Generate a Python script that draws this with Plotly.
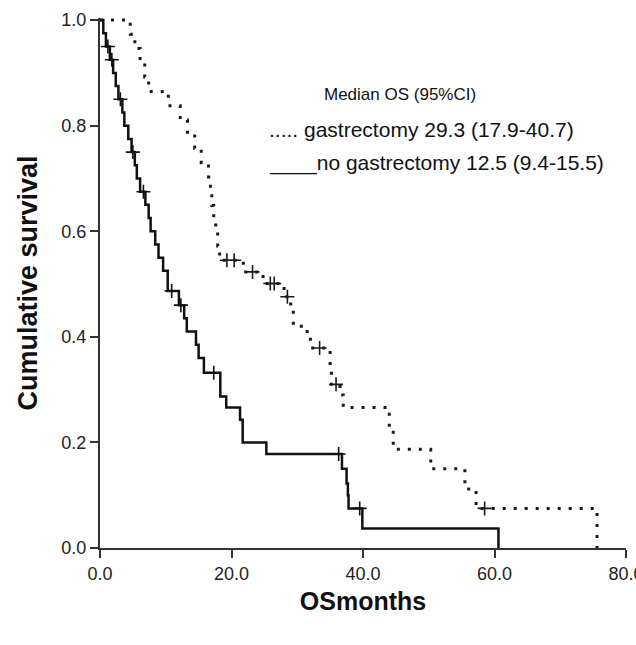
import plotly.graph_objects as go

# ---- data ----
# no gastrectomy (solid): event times (months) and survival after each step
nogas_t = [0, 0.5, 0.9, 1.5, 2.0, 2.4, 2.8, 3.4, 3.7, 4.3, 4.8, 5.3, 5.6, 6.1, 6.9, 7.4, 7.7,
           8.4, 8.9, 9.6, 10.3, 12.0, 12.8, 13.2, 14.6, 15.0, 15.8, 18.3, 19.2, 21.3,
           21.7, 25.3, 36.8, 37.5, 37.7, 37.8, 39.9, 60.6]
nogas_s = [1.0, 0.975, 0.95, 0.925, 0.90, 0.875, 0.85, 0.825, 0.80, 0.775, 0.75, 0.725, 0.70,
           0.675, 0.65, 0.625, 0.60, 0.575, 0.55, 0.525, 0.487, 0.46, 0.435, 0.41,
           0.385, 0.36, 0.332, 0.287, 0.266, 0.243, 0.20, 0.178, 0.15, 0.122, 0.10, 0.075,
           0.037, 0.0]
nogas_cens_t = [1.2, 1.8, 3.1, 5.0, 6.6, 10.9, 12.3, 17.3, 36.3, 39.5]
nogas_cens_s = [0.95, 0.925, 0.85, 0.75, 0.675, 0.487, 0.46, 0.332, 0.178, 0.075]

# gastrectomy (dotted)
gas_t = [0, 4.6, 5.3, 6.1, 6.8, 7.4, 10.4, 12.2, 13.3, 14.4, 15.4, 16.5, 16.8, 17.0, 17.3,
         17.6, 17.9, 18.2, 21.8, 24.8, 28.0, 29.0, 29.4, 31.5, 32.0, 35.0, 35.2, 36.5, 37.0,
         44.0, 44.6, 50.3, 55.5, 57.2, 75.6]
gas_s = [1.0, 0.973, 0.946, 0.919, 0.892, 0.865, 0.838, 0.811, 0.784, 0.757, 0.730, 0.703,
         0.676, 0.649, 0.622, 0.595, 0.572, 0.545, 0.523, 0.501, 0.476, 0.45, 0.42, 0.40,
         0.379, 0.345, 0.31, 0.29, 0.266, 0.225, 0.187, 0.15, 0.112, 0.075, 0.0]
gas_cens_t = [19.3, 20.4, 23.2, 25.9, 26.5, 28.5, 33.4, 35.9, 58.5]
gas_cens_s = [0.545, 0.545, 0.523, 0.501, 0.501, 0.476, 0.379, 0.31, 0.075]

x_ticks = [0, 20, 40, 60, 80]
x_ticklabels = ["0.0", "20.0", "40.0", "60.0", "80.0"]
y_ticks = [0, 0.2, 0.4, 0.6, 0.8, 1.0]
y_ticklabels = ["0.0", "0.2", "0.4", "0.6", "0.8", "1.0"]

legend_title = "Median OS (95%CI)"
legend_gas = "..... gastrectomy 29.3 (17.9-40.7)"
legend_nogas = "____no gastrectomy 12.5 (9.4-15.5)"

FONT = "Liberation Sans, Arial, sans-serif"
INK = "#111111"

fig = go.Figure()
fig.add_trace(go.Scatter(x=gas_t, y=gas_s, mode="lines", line_shape="hv",
                         line=dict(color="#1a1a1a", width=3, dash="3px,8px"),
                         showlegend=False, hoverinfo="skip"))
fig.add_trace(go.Scatter(x=nogas_t, y=nogas_s, mode="lines", line_shape="hv",
                         line=dict(color=INK, width=2.5),
                         showlegend=False, hoverinfo="skip"))
fig.add_trace(go.Scatter(x=gas_cens_t, y=gas_cens_s, mode="markers",
                         marker=dict(symbol="cross-thin-open", size=10, color="#1a1a1a",
                                     line=dict(color="#1a1a1a", width=1.6)),
                         showlegend=False, hoverinfo="skip"))
fig.add_trace(go.Scatter(x=nogas_cens_t, y=nogas_cens_s, mode="markers",
                         marker=dict(symbol="cross-thin-open", size=10, color=INK,
                                     line=dict(color=INK, width=1.6)),
                         showlegend=False, hoverinfo="skip"))

axis_common = dict(showgrid=False, zeroline=False, showline=True, linecolor="#333333",
                   linewidth=2, ticks="outside", ticklen=8, tickwidth=1.5,
                   tickcolor="#333333", ticklabeloverflow="allow", automargin=False,
                   tickfont=dict(family=FONT, size=18, color="#222222"))

fig.update_xaxes(range=[0, 80], tickvals=x_ticks, ticktext=x_ticklabels,
                 title=dict(text="<b>OSmonths</b>", font=dict(family=FONT, size=25, color=INK),
                            standoff=10),
                 **axis_common)
fig.update_yaxes(range=[0, 1.004], tickvals=y_ticks, ticktext=y_ticklabels,
                 title=dict(text="<b>Cumulative survival</b>",
                            font=dict(family=FONT, size=27, color=INK), standoff=16),
                 **axis_common)

fig.add_annotation(xref="paper", yref="paper", x=0.57, y=0.856, text=legend_title,
                   showarrow=False, xanchor="center", yanchor="middle",
                   font=dict(family=FONT, size=17, color=INK))
line_font = dict(family=FONT, size=21, color=INK)
fig.add_annotation(xref="paper", yref="paper", x=0.318, y=0.79, text=legend_gas,
                   showarrow=False, xanchor="left", yanchor="middle", font=line_font)
fig.add_annotation(xref="paper", yref="paper", x=0.318, y=0.727, text=legend_nogas,
                   showarrow=False, xanchor="left", yanchor="middle", font=line_font)

fig.update_layout(width=636, height=645, margin=dict(l=100, r=10, t=18, b=97),
                  paper_bgcolor="white", plot_bgcolor="white",
                  font=dict(family=FONT))

fig.write_html("out.html")
